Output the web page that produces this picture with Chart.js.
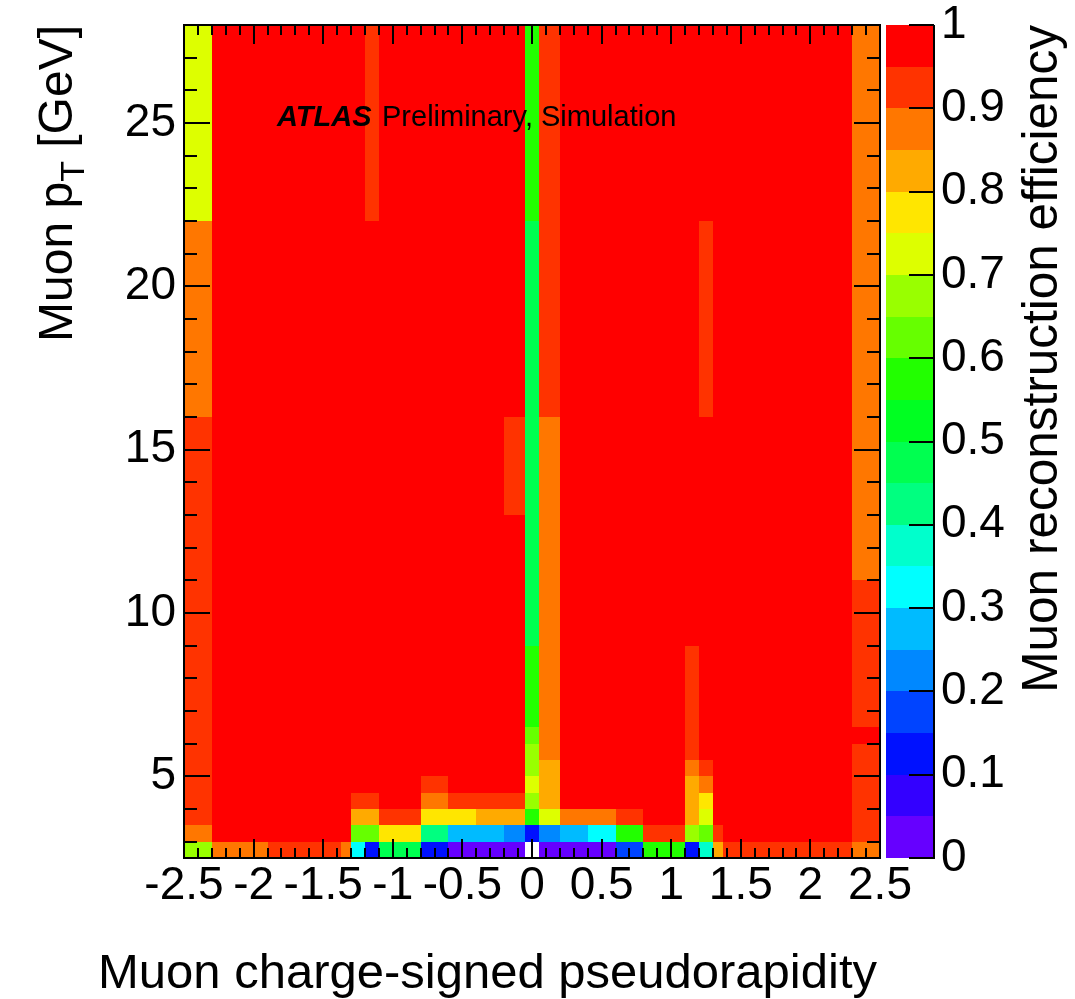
<!DOCTYPE html>
<html>
<head>
<meta charset="utf-8">
<script src="https://cdn.jsdelivr.net/npm/chart.js@4.4.0/dist/chart.umd.min.js"></script>
<style>
  html, body { margin: 0; padding: 0; background: #fff; }
</style>
</head>
<body>
<canvas id="effChart" width="1075" height="999"></canvas>
<script>
// eta bin edges (charge-signed), note the 1.37 crack edge and the narrow central bin
const xEdges = [-2.5, -2.4, -2.3, -2.2, -2.1, -2.0, -1.9, -1.8, -1.7, -1.6, -1.5, -1.37,
  -1.3, -1.2, -1.1, -1.0, -0.9, -0.8, -0.7, -0.6, -0.5, -0.4, -0.3, -0.2, -0.1, -0.05,
  0.05, 0.1, 0.2, 0.3, 0.4, 0.5, 0.6, 0.7, 0.8, 0.9, 1.0, 1.1, 1.2, 1.3, 1.37,
  1.5, 1.6, 1.7, 1.8, 1.9, 2.0, 2.1, 2.2, 2.3, 2.4, 2.5];

// pT bin edges [GeV]
const yEdges = [2.5, 3, 3.5, 4, 4.5, 5, 5.5, 6, 6.5, 7, 7.5, 8, 8.5, 9, 9.5, 10, 10.5,
  11, 11.5, 12, 12.5, 13, 13.5, 14, 14.5, 15, 15.5, 16, 16.5, 17, 17.5, 18, 18.5, 19,
  19.5, 20, 20.5, 21, 21.5, 22, 22.5, 23, 23.5, 24, 24.5, 25, 25.5, 26, 26.5, 27, 27.5, 28];

// efficiency band of every cell, read off the colour scale
// '0'..'9','a'..'j' = band 0-0.05 ... 0.95-1.0, '.' = empty bin
// one string per pT bin, top row (27.5-28 GeV) first, spaces only for readability
const effRows = [
  "eejjj jjjjj jjjij jjjjj jjjjj biijj jjjjj jjjjj jjjjj jjjjh h",
  "eejjj jjjjj jjjij jjjjj jjjjj biijj jjjjj jjjjj jjjjj jjjjh h",
  "eejjj jjjjj jjjij jjjjj jjjjj biijj jjjjj jjjjj jjjjj jjjjh h",
  "eejjj jjjjj jjjij jjjjj jjjjj biijj jjjjj jjjjj jjjjj jjjjh h",
  "eejjj jjjjj jjjij jjjjj jjjjj biijj jjjjj jjjjj jjjjj jjjjh h",
  "eejjj jjjjj jjjij jjjjj jjjjj biijj jjjjj jjjjj jjjjj jjjjh h",
  "eejjj jjjjj jjjij jjjjj jjjjj biijj jjjjj jjjjj jjjjj jjjjh h",
  "eejjj jjjjj jjjij jjjjj jjjjj biijj jjjjj jjjjj jjjjj jjjjh h",
  "eejjj jjjjj jjjij jjjjj jjjjj biijj jjjjj jjjjj jjjjj jjjjh h",
  "eejjj jjjjj jjjij jjjjj jjjjj biijj jjjjj jjjjj jjjjj jjjjh h",
  "eejjj jjjjj jjjij jjjjj jjjjj biijj jjjjj jjjjj jjjjj jjjjh h",
  "eejjj jjjjj jjjij jjjjj jjjjj biijj jjjjj jjjjj jjjjj jjjjh h",
  "hhjjj jjjjj jjjjj jjjjj jjjjj 9iijj jjjjj jjjij jjjjj jjjjh h",
  "hhjjj jjjjj jjjjj jjjjj jjjjj 9iijj jjjjj jjjij jjjjj jjjjh h",
  "hhjjj jjjjj jjjjj jjjjj jjjjj 9iijj jjjjj jjjij jjjjj jjjjh h",
  "hhjjj jjjjj jjjjj jjjjj jjjjj 9iijj jjjjj jjjij jjjjj jjjjh h",
  "hhjjj jjjjj jjjjj jjjjj jjjjj 9iijj jjjjj jjjij jjjjj jjjjh h",
  "hhjjj jjjjj jjjjj jjjjj jjjjj 9iijj jjjjj jjjij jjjjj jjjjh h",
  "hhjjj jjjjj jjjjj jjjjj jjjjj 9iijj jjjjj jjjij jjjjj jjjjh h",
  "hhjjj jjjjj jjjjj jjjjj jjjjj 9iijj jjjjj jjjij jjjjj jjjjh h",
  "hhjjj jjjjj jjjjj jjjjj jjjjj 9iijj jjjjj jjjij jjjjj jjjjh h",
  "hhjjj jjjjj jjjjj jjjjj jjjjj 9iijj jjjjj jjjij jjjjj jjjjh h",
  "hhjjj jjjjj jjjjj jjjjj jjjjj 9iijj jjjjj jjjij jjjjj jjjjh h",
  "hhjjj jjjjj jjjjj jjjjj jjjjj 9iijj jjjjj jjjij jjjjj jjjjh h",
  "iijjj jjjjj jjjjj jjjjj jjjii 9hhjj jjjjj jjjjj jjjjj jjjjh h",
  "iijjj jjjjj jjjjj jjjjj jjjii 9hhjj jjjjj jjjjj jjjjj jjjjh h",
  "iijjj jjjjj jjjjj jjjjj jjjii 9hhjj jjjjj jjjjj jjjjj jjjjh h",
  "iijjj jjjjj jjjjj jjjjj jjjii 9hhjj jjjjj jjjjj jjjjj jjjjh h",
  "iijjj jjjjj jjjjj jjjjj jjjii 9hhjj jjjjj jjjjj jjjjj jjjjh h",
  "iijjj jjjjj jjjjj jjjjj jjjii 9hhjj jjjjj jjjjj jjjjj jjjjh h",
  "iijjj jjjjj jjjjj jjjjj jjjjj 9hhjj jjjjj jjjjj jjjjj jjjjh h",
  "iijjj jjjjj jjjjj jjjjj jjjjj 9hhjj jjjjj jjjjj jjjjj jjjjh h",
  "iijjj jjjjj jjjjj jjjjj jjjjj 9hhjj jjjjj jjjjj jjjjj jjjjh h",
  "iijjj jjjjj jjjjj jjjjj jjjjj 9hhjj jjjjj jjjjj jjjjj jjjjh h",
  "iijjj jjjjj jjjjj jjjjj jjjjj 9hhjj jjjjj jjjjj jjjjj jjjji i",
  "iijjj jjjjj jjjjj jjjjj jjjjj 9hhjj jjjjj jjjjj jjjjj jjjji i",
  "iijjj jjjjj jjjjj jjjjj jjjjj 9hhjj jjjjj jjjjj jjjjj jjjji i",
  "iijjj jjjjj jjjjj jjjjj jjjjj 9hhjj jjjjj jjjjj jjjjj jjjji i",
  "iijjj jjjjj jjjjj jjjjj jjjjj bhhjj jjjjj jjijj jjjjj jjjji i",
  "iijjj jjjjj jjjjj jjjjj jjjjj bhhjj jjjjj jjijj jjjjj jjjji i",
  "iijjj jjjjj jjjjj jjjjj jjjjj bhhjj jjjjj jjijj jjjjj jjjji i",
  "iijjj jjjjj jjjjj jjjjj jjjjj bhhjj jjjjj jjijj jjjjj jjjji i",
  "iijjj jjjjj jjjjj jjjjj jjjjj bhhjj jjjjj jjijj jjjjj jjjji i",
  "iijjj jjjjj jjjjj jjjjj jjjjj chhjj jjjjj jjijj jjjjj jjjjj j",
  "iijjj jjjjj jjjjj jjjjj jjjjj dhhjj jjjjj jjijj jjjjj jjjji i",
  "iijjj jjjjj jjjjj jjjjj jjjjj dggjj jjjjj jjhij jjjjj jjjji i",
  "iijjj jjjjj jjjjj jjiij jjjjj eggjj jjjjj jjghj jjjjj jjjji i",
  "iijjj jjjjj jjiij jjhhi iiiii dggjj jjjjj jjgfj jjjjj jjjji i",
  "iijjj jjjjj jjggi iifff fgggg beehh hhiij jjgej jjjjj jjjji i",
  "hhjjj jjjjj jjccf ff885 55544 24455 66bbi iidci jjjjj jjjji i",
  "ddhhh hiiii ih629 99220 00000 .0000 0033b bb27g iiiii iiiih h"
];

const xTickLabels = [-2.5, -2, -1.5, -1, -0.5, 0, 0.5, 1, 1.5, 2, 2.5];
const yTickLabels = [5, 10, 15, 20, 25];
const zTickLabels = [0, 0.1, 0.2, 0.3, 0.4, 0.5, 0.6, 0.7, 0.8, 0.9, 1];

// 20 contour colours, 0-0.05 first
const palette = ["#6600ff", "#3300ff", "#0011ff", "#0044ff", "#0088ff", "#00bbff",
  "#00ffff", "#00ffcc", "#00ff80", "#00ff50", "#00ff22", "#22ff00", "#66ff00",
  "#99ff00", "#ddff00", "#ffe600", "#ffaa00", "#ff7700", "#ff3300", "#ff0000"];

const FONT = "'Liberation Sans', Arial, Helvetica, sans-serif";

// turn band codes into efficiency values (centre of band)
const effValues = effRows.map(row => {
    const cells = row.replace(/ /g, "").split("");
    if (cells.length !== xEdges.length - 1) console.warn("bad row length", row);
    return cells.map(ch => ch === "." ? null : (parseInt(ch, 20) + 0.5) / 20);
});

function colorFor(v) {
    let level = Math.floor(v * palette.length);
    if (level >= palette.length) level = palette.length - 1;
    if (level < 0) level = 0;
    return palette[level];
}

const heatmapPlugin = {
    id: "heatmap",
    beforeDatasetsDraw(chart) {
        const ctx = chart.ctx;
        const xs = chart.scales.x, ys = chart.scales.y, zs = chart.scales.z;
        const nRows = effValues.length;
        ctx.save();
        effValues.forEach((row, i) => {
            const lo = yEdges[nRows - 1 - i], hi = yEdges[nRows - i];
            const top = Math.round(ys.getPixelForValue(hi));
            const bottom = Math.round(ys.getPixelForValue(lo));
            row.forEach((v, j) => {
                if (v === null) return;
                const left = Math.round(xs.getPixelForValue(xEdges[j]));
                const right = Math.round(xs.getPixelForValue(xEdges[j + 1]));
                ctx.fillStyle = colorFor(v);
                ctx.fillRect(left, top, right - left, bottom - top);
            });
        });

        // colour bar, on the z scale
        const barLeft = zs.left + 6, barRight = zs.left + 54;
        palette.forEach((col, k) => {
            const t = Math.round(zs.getPixelForValue((k + 1) / palette.length));
            const b = Math.round(zs.getPixelForValue(k / palette.length));
            ctx.fillStyle = col;
            ctx.fillRect(barLeft, t, barRight - barLeft, b - t);
        });
        ctx.restore();
    },
    afterDatasetsDraw(chart) {
        const ctx = chart.ctx;
        const a = chart.chartArea;
        const xs = chart.scales.x, ys = chart.scales.y, zs = chart.scales.z;
        ctx.save();
        ctx.strokeStyle = "#000";
        ctx.lineWidth = 2;
        ctx.beginPath();
        // x ticks, bottom and top, pointing inside
        for (let k = 0; k <= 50; k++) {
            const v = -2.5 + k * 0.1;
            const px = Math.round(xs.getPixelForValue(v));
            const len = (k % 5 === 0) ? 19 : 10;
            ctx.moveTo(px, a.bottom); ctx.lineTo(px, a.bottom - len);
            ctx.moveTo(px, a.top); ctx.lineTo(px, a.top + len);
        }
        // y ticks, left and right
        for (let v = 3; v <= 28; v++) {
            const py = Math.round(ys.getPixelForValue(v));
            const len = (v % 5 === 0) ? 26 : 13;
            ctx.moveTo(a.left, py); ctx.lineTo(a.left + len, py);
            ctx.moveTo(a.right, py); ctx.lineTo(a.right - len, py);
        }
        // colour bar axis on its right edge
        const barRight = zs.left + 54;
        ctx.moveTo(barRight, a.top); ctx.lineTo(barRight, a.bottom + 1);
        zTickLabels.forEach(v => {
            const py = Math.round(zs.getPixelForValue(v));
            ctx.moveTo(barRight, py); ctx.lineTo(barRight - 25, py);
        });
        ctx.stroke();
        ctx.strokeRect(a.left, a.top, a.right - a.left, a.bottom - a.top);
        ctx.restore();
    },
    afterDraw(chart) {
        const ctx = chart.ctx;
        const a = chart.chartArea;
        ctx.save();
        ctx.fillStyle = "#000";
        ctx.textBaseline = "alphabetic";

        // x title
        ctx.font = "49px " + FONT;
        ctx.textAlign = "right";
        ctx.fillText("Muon charge-signed pseudorapidity", 877, 988);

        // y title with subscript
        ctx.save();
        ctx.translate(72, a.top);
        ctx.rotate(-Math.PI / 2);
        ctx.textAlign = "left";
        ctx.font = "48px " + FONT;
        const w1 = ctx.measureText("Muon p").width;
        const w3 = ctx.measureText(" [GeV]").width;
        ctx.font = "34px " + FONT;
        const w2 = ctx.measureText("T").width;
        let x0 = -(w1 + w2 + w3);
        ctx.font = "48px " + FONT;
        ctx.fillText("Muon p", x0, 0);
        ctx.font = "34px " + FONT;
        ctx.fillText("T", x0 + w1, 12);
        ctx.font = "48px " + FONT;
        ctx.fillText(" [GeV]", x0 + w1 + w2, 0);
        ctx.restore();

        // z title
        ctx.save();
        ctx.translate(1057, a.top);
        ctx.rotate(-Math.PI / 2);
        ctx.textAlign = "right";
        ctx.font = "49.5px " + FONT;
        ctx.fillText("Muon reconstruction efficiency", 0, 0);
        ctx.restore();

        // ATLAS label
        ctx.textAlign = "left";
        ctx.font = "italic bold 29px " + FONT;
        ctx.fillText("ATLAS", 277, 126);
        ctx.font = "29px " + FONT;
        ctx.fillText("Preliminary, Simulation", 382, 126);
        ctx.restore();
    }
};

const tickFont = { family: FONT, size: 46 };
const plainLabel = v => String(v);

new Chart(document.getElementById("effChart"), {
    type: "scatter",
    data: { datasets: [] },
    options: {
        responsive: false,
        animation: false,
        events: [],
        layout: { padding: { top: 25, left: 0, right: 0, bottom: 0 } },
        plugins: { legend: { display: false }, tooltip: { enabled: false } },
        scales: {
            x: {
                type: "linear", position: "bottom", min: -2.5, max: 2.5,
                afterBuildTicks: s => { s.ticks = xTickLabels.map(v => ({ value: v })); },
                afterFit: s => { s.height = 141; s.paddingLeft = 0; s.paddingRight = 0; },
                ticks: { font: tickFont, color: "#000", padding: 1, maxRotation: 0, autoSkip: false, callback: plainLabel },
                grid: { display: false, drawTicks: false },
                border: { display: false }
            },
            y: {
                type: "linear", position: "left", min: 2.5, max: 28,
                afterBuildTicks: s => { s.ticks = yTickLabels.map(v => ({ value: v })); },
                afterFit: s => { s.width = 184; s.paddingTop = 0; s.paddingBottom = 0; },
                ticks: { font: tickFont, color: "#000", padding: 8, autoSkip: false, callback: plainLabel },
                grid: { display: false, drawTicks: false },
                border: { display: false }
            },
            z: {
                type: "linear", axis: "y", position: "right", min: 0, max: 1,
                afterBuildTicks: s => { s.ticks = zTickLabels.map(v => ({ value: v })); },
                afterFit: s => { s.width = 195; s.paddingTop = 0; s.paddingBottom = 0; },
                ticks: { font: tickFont, color: "#000", padding: 61, autoSkip: false, callback: plainLabel },
                grid: { display: false, drawTicks: false },
                border: { display: false }
            }
        }
    },
    plugins: [heatmapPlugin]
});
</script>
</body>
</html>
